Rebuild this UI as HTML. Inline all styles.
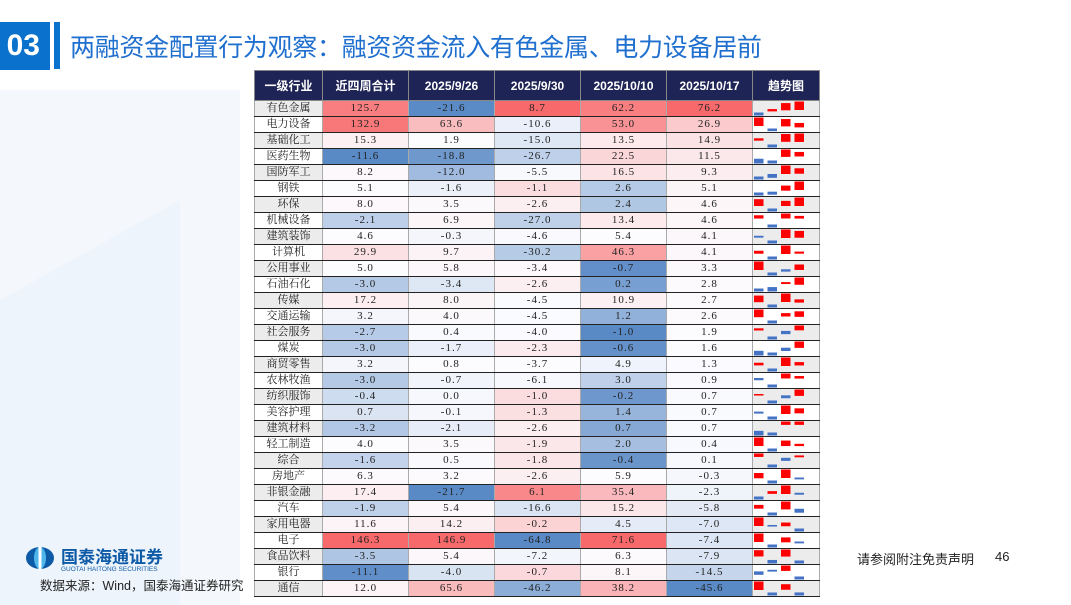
<!DOCTYPE html>
<html><head><meta charset="utf-8">
<style>
body{margin:0;width:1071px;height:605px;overflow:hidden;background:#fff;position:relative;font-family:"Liberation Sans","Noto Sans CJK SC",sans-serif;}
#bg{position:absolute;left:0;top:0}
#num{position:absolute;left:0;top:22px;width:50px;height:48px;background:#0a72cc;color:#fff;font:bold 30px "Liberation Sans",sans-serif;line-height:48px;text-align:right;box-sizing:border-box;padding-right:10px}
#sep{position:absolute;left:54px;top:22px;width:6px;height:47px;background:#0a72cc}
#title{position:absolute;left:70px;top:28px;font-size:25px;color:#1f6fcf;white-space:nowrap;letter-spacing:-0.3px}
#tbl{position:absolute;left:254px;top:70px;border-collapse:collapse;table-layout:fixed;font-family:"Liberation Serif","Noto Serif CJK SC",serif;font-size:11px;color:#222}
#tbl td,#tbl th{padding:0;text-align:center;border-left:1px solid #aaa;border-right:1px solid #aaa;border-top:1px solid #222;border-bottom:1px solid #222;overflow:hidden;white-space:nowrap}
#tbl th{background:#1f2456;color:#fff;font-family:"Liberation Sans","Noto Sans CJK SC",sans-serif;font-weight:bold;font-size:12px;height:29px;border-color:#888}
#tbl td{height:15px;line-height:15px;letter-spacing:1px}
#logo{position:absolute;left:25px;top:545px}
#src{position:absolute;left:40px;top:575px;font-size:12.5px;color:#222;white-space:nowrap}
#disc{position:absolute;left:857px;top:549px;font-size:13px;color:#222}
#pg{position:absolute;left:995px;top:549px;font-size:13px;color:#222}
</style></head><body>
<svg id="bg" width="1071" height="605"><polygon points="0,90 240,90 240,605 0,605" fill="#f4f8fc"/><polygon points="0,300 180,200 180,605 0,605" fill="#eef4fb"/></svg>
<div id="num">03</div>
<div id="sep"></div>
<div id="title">两融资金配置行为观察：融资资金流入有色金属、电力设备居前</div>
<table id="tbl">
<colgroup><col style="width:68px"><col style="width:86px"><col style="width:86px"><col style="width:86px"><col style="width:86px"><col style="width:86px"><col style="width:66px"></colgroup>
<thead><tr id="hdr"></tr></thead>
<tbody id="body"></tbody>
</table>
<svg id="logo" width="150" height="28">
<ellipse cx="15" cy="13" rx="14" ry="11" fill="#0d5aa7"/><ellipse cx="15" cy="13" rx="6" ry="11" fill="#4fb6ea"/><rect x="13.5" y="2" width="3" height="22" fill="#fff"/>
<text x="36" y="18" font-size="17" fill="#0d5aa7" font-family="Liberation Sans,Noto Sans CJK SC,sans-serif" font-weight="bold">国泰海通证券</text>
<text x="36" y="26" font-size="6.5" fill="#0d5aa7" font-family="Liberation Sans,sans-serif">GUOTAI HAITONG SECURITIES</text>
</svg>
<div id="src">数据来源：Wind，国泰海通证券研究</div>
<div id="disc">请参阅附注免责声明</div>
<div id="pg">46</div>
<script>
const headers=["一级行业","近四周合计","2025/9/26","2025/9/30","2025/10/10","2025/10/17","趋势图"];
const industries=["有色金属","电力设备","基础化工","医药生物","国防军工","钢铁","环保","机械设备","建筑装饰","计算机","公用事业","石油石化","传媒","交通运输","社会服务","煤炭","商贸零售","农林牧渔","纺织服饰","美容护理","建筑材料","轻工制造","综合","房地产","非银金融","汽车","家用电器","电子","食品饮料","银行","通信"];
const total4w=[125.7,132.9,15.3,-11.6,8.2,5.1,8.0,-2.1,4.6,29.9,5.0,-3.0,17.2,3.2,-2.7,-3.0,3.2,-3.0,-0.4,0.7,-3.2,4.0,-1.6,6.3,17.4,-1.9,11.6,146.3,-3.5,-11.1,12.0];
const w0926=[-21.6,63.6,1.9,-18.8,-12.0,-1.6,3.5,6.9,-0.3,9.7,5.8,-3.4,8.0,4.0,0.4,-1.7,0.8,-0.7,0.0,-0.1,-2.1,3.5,0.5,3.2,-21.7,5.4,14.2,146.9,5.4,-4.0,65.6];
const w0930=[8.7,-10.6,-15.0,-26.7,-5.5,-1.1,-2.6,-27.0,-4.6,-30.2,-3.4,-2.6,-4.5,-4.5,-4.0,-2.3,-3.7,-6.1,-1.0,-1.3,-2.6,-1.9,-1.8,-2.6,6.1,-16.6,-0.2,-64.8,-7.2,-0.7,-46.2];
const w1010=[62.2,53.0,13.5,22.5,16.5,2.6,2.4,13.4,5.4,46.3,-0.7,0.2,10.9,1.2,-1.0,-0.6,4.9,3.0,-0.2,1.4,0.7,2.0,-0.4,5.9,35.4,15.2,4.5,71.6,6.3,8.1,38.2];
const w1017=[76.2,26.9,14.9,11.5,9.3,5.1,4.6,4.6,4.1,4.1,3.3,2.8,2.7,2.6,1.9,1.6,1.3,0.9,0.7,0.7,0.7,0.4,0.1,-0.3,-2.3,-5.8,-7.0,-7.4,-7.9,-14.5,-45.6];
const cols=[total4w,w0926,w0930,w1010,w1017];
const colNames=['total-4w','week-0926','week-0930','week-1010','week-1017'];

const hdr=document.getElementById('hdr');
headers.forEach((h,i)=>{const th=document.createElement('th');th.textContent=h;


hdr.appendChild(th);});

function mix(a,b,t){return 'rgb('+a.map((x,i)=>Math.round(x+(b[i]-x)*t)).join(',')+')';}
const RED=[248,105,107],BLUE=[90,138,198],WHITE=[252,252,255];
function scaleFor(arr){const s=[...arr].sort((a,b)=>a-b);const mn=s[0],mx=s[s.length-1],md=s[Math.floor(s.length/2)];
return v=>v>=md?mix(WHITE,RED,mx===md?0:(v-md)/(mx-md)):mix(WHITE,BLUE,mn===md?0:(md-v)/(md-mn));}
const scales=cols.map(scaleFor);

const body=document.getElementById('body');
industries.forEach((name,r)=>{
 const tr=document.createElement('tr');
 
 
 const td0=document.createElement('td');td0.textContent=name;td0.style.background=r%2===0?'#ececec':'#fff';td0.style.letterSpacing='0';
 
 
 tr.appendChild(td0);
 cols.forEach((arr,c)=>{const td=document.createElement('td');td.textContent=arr[r].toFixed(1);td.style.background=scales[c](arr[r]);
  
  
  tr.appendChild(td);});
 const tds=document.createElement('td');tds.style.background=r%2===0?'#ececec':'#fff';tds.style.textAlign='left';
 
 
 const vals=[w0926[r],w0930[r],w1010[r],w1017[r]];
 const mn=Math.min(...vals),mx=Math.max(...vals),rg=(mx-mn)||1,H=15;
 const ma=Math.max(...vals.map(Math.abs))||1;
 const ns='http://www.w3.org/2000/svg';
 const svg=document.createElementNS(ns,'svg');svg.setAttribute('width','66');svg.setAttribute('height','15');svg.style.display='block';
 vals.forEach((v,i)=>{const top=0.5+(mx-v)/rg*(H-4);let h=1.5+Math.abs(v)/ma*7;if(top+h>H-0.5)h=H-0.5-top;
  const b=document.createElementNS(ns,'rect');b.setAttribute('x',1+i*13.5);b.setAttribute('y',top);b.setAttribute('width',9.5);b.setAttribute('height',Math.max(1.5,h));
  b.setAttribute('fill',v>=0?'#ff0000':'#4472c4');
  
  
  svg.appendChild(b);});
 tds.appendChild(svg);tr.appendChild(tds);
 body.appendChild(tr);
});
</script>
</body></html>
